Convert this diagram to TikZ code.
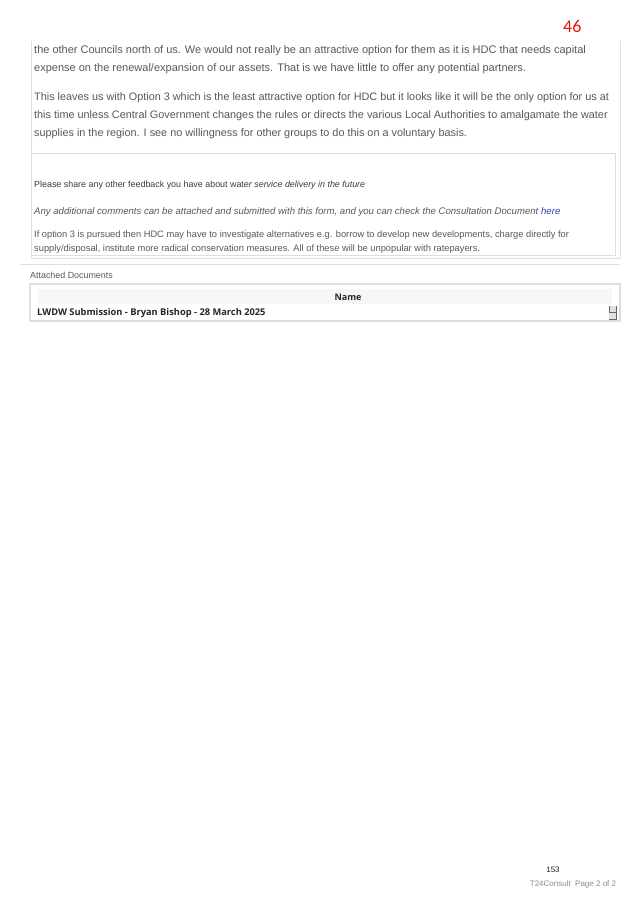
\documentclass[tikz,border=0pt]{standalone}
\usepackage{fontspec}
\setmainfont{Liberation Sans}
\newfontfamily\tablefont{Open Sans}
\newfontfamily\markfont{Carlito}
\definecolor{txtgray}{RGB}{88,88,88}
\definecolor{darktxt}{RGB}{60,60,60}
\definecolor{linegray}{RGB}{222,222,222}
\definecolor{headfill}{RGB}{246,246,246}
\definecolor{markred}{RGB}{230,20,20}
\definecolor{linkblue}{RGB}{40,70,170}
\tikzset{
  bodytext/.style={anchor=north west,inner sep=0,align=left,text=txtgray,
    font=\fontsize{11}{18}\selectfont},
  smalltext/.style={anchor=north west,inner sep=0,align=left,text=txtgray,
    font=\fontsize{8.9}{14}\selectfont},
  rule/.style={draw=linegray,line width=0.8pt},
}
\begin{document}
\begin{tikzpicture}[x=1pt,y=-1pt]
    \useasboundingbox[fill=white] (0,0) rectangle (638,903);
    \node[anchor=north west,inner sep=0,text=markred,font=\markfont\fontsize{18}{18}\selectfont] (pagemark) at (563,20) {46};
    % answer box
    \coordinate (boxtl) at (31,41);
    \coordinate (boxbr) at (620,258);
    \draw[rule] (boxtl) |- (boxbr) -- (boxbr |- boxtl);
    \coordinate (innertl) at (31,153);
    \coordinate (innerbr) at (615,255);
    \draw[rule,line width=0.5pt] (innertl) rectangle (innerbr);
    \draw[rule] (innertl) -- (innertl -| innerbr);
    \node[bodytext] (para1) at (34,45) {the other Councils north of us. We would not really be an attractive option for them as it is HDC that needs capital\\
        expense on the renewal/expansion of our assets. That is we have little to offer any potential partners.};
    \node[bodytext,font=\fontsize{10.85}{18}\selectfont] (para2) at (34,92) {This leaves us with Option 3 which is the least attractive option for HDC but it looks like it will be the only option for us at\\
        this time unless Central Government changes the rules or directs the various Local Authorities to amalgamate the water\\
        supplies in the region. I see no willingness for other groups to do this on a voluntary basis.};
    \node[smalltext,text=darktxt] (question) at (34,181) {Please share any other feedback you have about wat\textit{er service delivery in the future}};
    \node[smalltext,font=\fontsize{9.6}{14}\selectfont\itshape] (hint) at (34,207) {Any additional comments can be attached and submitted with this form, and you can check the Consultation Document \textcolor{linkblue}{here}};
    \node[smalltext,font=\fontsize{9.3}{14}\selectfont] (answer) at (34,231) {If option 3 is pursued then HDC may have to investigate alternatives e.g. borrow to develop new developments, charge directly for\\
        supply/disposal, institute more radical conservation measures. All of these will be unpopular with ratepayers.};
    \coordinate (splitl) at (20,264);
    \coordinate (splitr) at (620,264);
    \draw[rule] (splitl) -- (splitr);
    % attached documents table
    \node[smalltext] (attached) at (30,272) {Attached Documents};
    \coordinate (tabtl) at (30,284);
    \coordinate (tabbr) at (620,321);
    \draw[rule,line width=1.6pt] (tabtl) rectangle (tabbr);
    \coordinate (headtl) at (37,288);
    \coordinate (headbr) at (612,304);
    \fill[headfill] (headtl) rectangle (headbr);
    \draw[draw=white,line width=0.8pt] (headtl) rectangle (headbr);
    \node[inner sep=0,font=\tablefont\bfseries\fontsize{9}{10}\selectfont,text=black!85] (namehead) at (348,297) {Name};
    \node[anchor=west,inner sep=0,font=\tablefont\bfseries\fontsize{9.3}{10}\selectfont,text=black!85] (docname) at (37,313) {LWDW Submission - Bryan Bishop - 28 March 2025};
    \coordinate (scrolltop) at (609,306);
    \coordinate (scrollmid) at (616,312.5);
    \coordinate (scrollbot) at (609,319);
    \fill[black!12] (scrolltop) rectangle (scrollmid);
    \fill[black!12] (scrollbot) rectangle (scrollmid);
    \draw[black!60,line width=0.6pt] (scrolltop) |- (scrollmid);
    \draw[black!60,line width=0.6pt] (scrollmid |- scrolltop) -- (scrollmid) -- (scrollbot |- scrollmid);
    \draw[black!60,line width=0.6pt] (scrollbot) -- (scrollbot -| scrollmid) -- (scrollmid);
    % footer
    \node[inner sep=0,font=\fontsize{8}{10}\selectfont,text=black!85] (pagenum) at (553,870) {153};
    \node[inner sep=0,font=\fontsize{8}{10}\selectfont,text=black!45] (footer) at (573,884) {T24Consult\ \ Page 2 of 2};
\end{tikzpicture}
\end{document}
